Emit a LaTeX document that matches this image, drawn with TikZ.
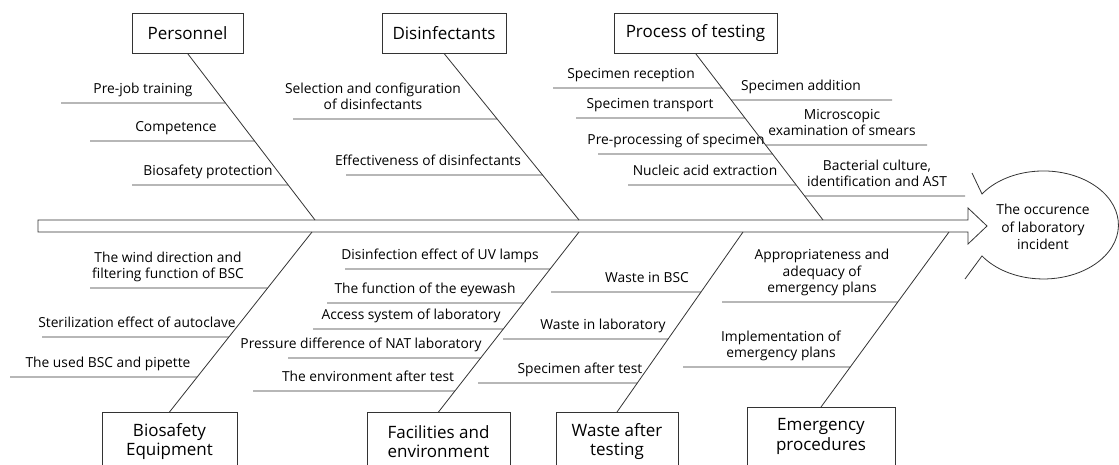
\documentclass[tikz,border=0pt]{standalone}
\usepackage{fontspec}
\setmainfont{Open Sans}
\usetikzlibrary{calc}

\begin{document}
\begin{tikzpicture}[x=1pt, y=1pt, line width=0.8pt, draw=black!80,
	catbox/.style={draw=black!80, font=\fontsize{17}{19.5}\selectfont, align=center, inner sep=0pt, minimum height=40pt},
	lbl/.style={anchor=south, inner sep=0pt, text depth=3.5pt, align=center, font=\fontsize{13.8}{16.5}\selectfont}]

	\useasboundingbox (0,0) rectangle (1119,-464);
	\clip (0,0) rectangle (1119,-464);

	%Spine
	\draw (38,-220) -- (968,-220) -- (968,-208) -- (987,-226) -- (968,-244) -- (968,-232) -- (38,-232) -- cycle;
	\coordinate (sp1) at (315,-220);
	\coordinate (sp2) at (579,-220);
	\coordinate (sp3) at (823,-220);
	\coordinate (sb1) at (312,-232);
	\coordinate (sb2) at (579,-232);
	\coordinate (sb3) at (743,-232);
	\coordinate (sb4) at (949,-232);

	%Head
	\draw (972,-173) -- (982,-194) arc[start angle=145, end angle=-145, x radius=75, y radius=54] -- (965,-279);
	\node[align=center, font=\fontsize{13.8}{17.5}\selectfont] (head) at (1043,-227) {The occurence\\of laboratory\\incident};

	%Top categories
	\node[catbox, minimum width=111pt] (pers) at (187.5,-33) {Personnel};
	\node[catbox, minimum width=124pt] (dis) at (444,-33) {Disinfectants};
	\node[catbox, minimum width=163pt] (proc) at (695.5,-33) {Process of testing};
	\draw (pers.south) -- (sp1);
	\draw (dis.south) -- (sp2);
	\draw (proc.south) -- (sp3);

	%Bottom categories
	\node[catbox, minimum width=135pt, minimum height=58pt, anchor=north] (bio) at (169.5,-412) {Biosafety\\Equipment};
	\node[catbox, minimum width=143pt, minimum height=58pt, anchor=north] (fac) at (438.5,-412) {Facilities and\\environment};
	\node[catbox, minimum width=122pt, minimum height=58pt, anchor=north] (waste) at (617,-412) {Waste after\\testing};
	\node[catbox, minimum width=148pt, minimum height=58pt, anchor=north] (emer) at (821,-407) {Emergency\\procedures};
	\draw (sb1) -- (bio.north);
	\draw (sb2) -- (fac.north);
	\draw (sb3) -- (waste.north);
	\draw (sb4) -- (emer.north);

	%Personnel
	\draw (61,-103) -- (intersection of pers.south--sp1 and 0,-103--1,-103);
	\node[lbl] (pj) at (143,-97.5) {Pre-job training};
	\draw (90,-141) -- (intersection of pers.south--sp1 and 0,-141--1,-141);
	\node[lbl] (cp) at (176,-135.5) {Competence};
	\draw (132,-185) -- (intersection of pers.south--sp1 and 0,-185--1,-185);
	\node[lbl] (bp) at (208,-179.5) {Biosafety protection};

	%Disinfectants
	\draw (293,-119) -- (intersection of dis.south--sp2 and 0,-119--1,-119);
	\node[lbl] (sc) at (373,-113.5) {Selection and configuration\\of disinfectants};
	\draw (346,-175) -- (intersection of dis.south--sp2 and 0,-175--1,-175);
	\node[lbl] (ed) at (428,-169.5) {Effectiveness of disinfectants};

	%Process of testing
	\draw (553,-88) -- (intersection of proc.south--sp3 and 0,-88--1,-88);
	\node[lbl] (sr) at (631,-82.5) {Specimen reception};
	\draw (576,-118) -- (intersection of proc.south--sp3 and 0,-118--1,-118);
	\node[lbl] (st) at (650,-112.5) {Specimen transport};
	\draw (598,-154) -- (intersection of proc.south--sp3 and 0,-154--1,-154);
	\node[lbl] (pp) at (676,-148.5) {Pre-processing of specimen};
	\draw (628,-185) -- (intersection of proc.south--sp3 and 0,-185--1,-185);
	\node[lbl] (na) at (705,-179.5) {Nucleic acid extraction};
	\draw (intersection of proc.south--sp3 and 0,-100--1,-100) -- (892,-100);
	\node[lbl] (sa) at (801,-94.5) {Specimen addition};
	\draw (intersection of proc.south--sp3 and 0,-145--1,-145) -- (927,-145);
	\node[lbl] (me) at (842,-139.5) {Microscopic\\examination of smears};
	\draw (intersection of proc.south--sp3 and 0,-196--1,-196) -- (965,-196);
	\node[lbl] (bc) at (877,-190.5) {Bacterial culture,\\identification and AST};

	%Biosafety equipment
	\draw (90,-288) -- (intersection of sb1--bio.north and 0,-288--1,-288);
	\node[lbl] (wd) at (168,-282.5) {The wind direction and\\filtering function of BSC};
	\draw (42,-337) -- (intersection of sb1--bio.north and 0,-337--1,-337);
	\node[lbl] (se) at (137,-331.5) {Sterilization effect of autoclave};
	\draw (10,-377) -- (intersection of sb1--bio.north and 0,-377--1,-377);
	\node[lbl] (ub) at (108,-371.5) {The used BSC and pipette};

	%Facilities and environment
	\draw (345,-269) -- (intersection of sb2--fac.north and 0,-269--1,-269);
	\node[lbl] (uv) at (440,-263.5) {Disinfection effect of UV lamps};
	\draw (327,-303) -- (intersection of sb2--fac.north and 0,-303--1,-303);
	\node[lbl] (ew) at (425,-297.5) {The function of the eyewash};
	\draw (313,-329) -- (intersection of sb2--fac.north and 0,-329--1,-329);
	\node[lbl] (as) at (411,-323.5) {Access system of laboratory};
	\draw (288,-358) -- (intersection of sb2--fac.north and 0,-358--1,-358);
	\node[lbl] (pd) at (361,-352.5) {Pressure difference of NAT laboratory};
	\draw (253,-391) -- (intersection of sb2--fac.north and 0,-391--1,-391);
	\node[lbl] (ea) at (368,-385.5) {The environment after test};

	%Waste after testing
	\draw (551,-292) -- (intersection of sb3--waste.north and 0,-292--1,-292);
	\node[lbl] (wb) at (647,-286.5) {Waste in BSC};
	\draw (503,-339) -- (intersection of sb3--waste.north and 0,-339--1,-339);
	\node[lbl] (wl) at (603,-333.5) {Waste in laboratory};
	\draw (478,-383) -- (intersection of sb3--waste.north and 0,-383--1,-383);
	\node[lbl] (sat) at (580,-377.5) {Specimen after test};

	%Emergency procedures
	\draw (722,-302) -- (intersection of sb4--emer.north and 0,-302--1,-302);
	\node[lbl] (aa) at (822,-296.5) {Appropriateness and\\adequacy of\\emergency plans};
	\draw (683,-367) -- (intersection of sb4--emer.north and 0,-367--1,-367);
	\node[lbl] (ie) at (781,-361.5) {Implementation of\\emergency plans};

\end{tikzpicture}
\end{document}
